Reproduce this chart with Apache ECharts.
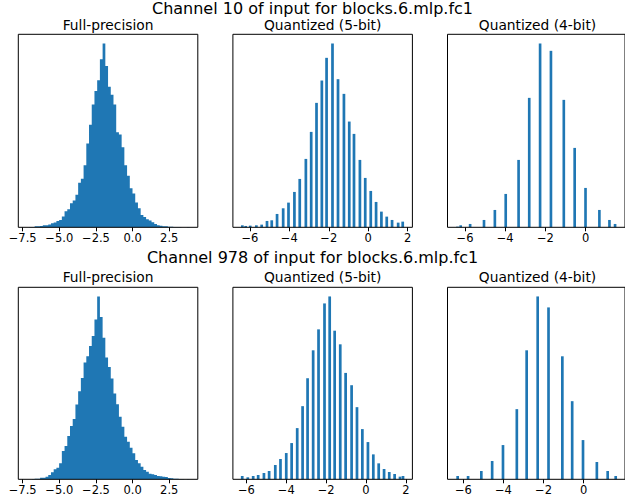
<!DOCTYPE html>
<html>
<head>
<meta charset="utf-8">
<script src="https://cdn.jsdelivr.net/npm/echarts@6/dist/echarts.min.js"></script>
<style>
html,body{margin:0;padding:0;background:#fff;}
#chart{width:625px;height:503px;}
</style>
</head>
<body>
<div id="chart"></div>
<script>
// ---------- data ----------
const rowTitles = ["Channel 10 of input for blocks.6.mlp.fc1", "Channel 978 of input for blocks.6.mlp.fc1"];
const panelTitles = ["Full-precision", "Quantized (5-bit)", "Quantized (4-bit)"];

// full-precision histograms: 60 bins starting at fullMin with width fullBinW
const fullMin = -7.24;
const fullBinW = 0.1855;
const fp10Counts = [0,1,1,3,3,4,6,6,8,12, 14,19,22,32,48,54,72,80,97,133,
  145,185,250,306,367,407,439,502,549,482, 420,396,367,284,277,239,185,154,117,101,
  74,57,37,31,24,20,15,10,6,5, 3,3,2,2,1,1,1,0,0,1];
const fp978Counts = [0,0,1,2,2,5,5,8,13,21, 30,35,48,85,100,130,160,181,225,265,
  305,351,370,401,431,481,550,488,426,366, 338,303,258,226,188,158,128,113,95,78,
  58,48,38,28,23,17,15,13,10,9, 8,7,4,3,2,2,1,1,0,1];

// quantized histograms: left edge of each non-empty bin and its count
const q5TopX = [-6.45,-6.28,-6.05,-5.74,-5.47,-5.20,-4.96,-4.69,-4.38,-4.11,-3.81,-3.54,-3.23,-2.96,-2.69,-2.42,-2.18,-1.88,-1.60,-1.30,-1.03,-0.79,-0.49,-0.22,0.06,0.33,0.60,0.87,1.14,1.45,1.68];
const q5TopC = [6,4,5,6,8,19,21,40,57,74,106,145,205,286,373,440,508,551,444,400,317,280,202,148,109,76,47,32,22,14,17];
const q4TopX = [-6.44,-6.28,-5.81,-5.12,-4.58,-4.04,-3.40,-2.87,-2.33,-1.79,-1.15,-0.61,-0.07,0.62,1.12,1.40];
const q4TopC = [2,6,10,22,52,100,202,388,551,529,382,238,118,52,22,10];
const q5BotX = [-6.28,-6.00,-5.73,-5.48,-5.19,-4.93,-4.62,-4.36,-4.07,-3.80,-3.52,-3.25,-3.00,-2.72,-2.45,-2.15,-1.89,-1.64,-1.36,-1.09,-0.79,-0.52,-0.25,0.03,0.30,0.57,0.84,1.10,1.37,1.64,1.79];
const q5BotC = [10,6,10,13,19,25,43,61,79,109,154,220,304,388,451,529,550,447,406,320,283,217,151,112,75,48,31,22,16,8,10];
const q4BotX = [-6.35,-5.83,-5.17,-4.63,-4.09,-3.40,-2.91,-2.36,-1.82,-1.13,-0.64,-0.10,0.59,1.13,1.53];
const q4BotC = [10,10,25,55,103,211,388,550,517,370,235,118,52,25,10];

// bin widths of quantized panels
const q5TopW = 0.1378, q4TopW = 0.132, q5BotW = 0.1365, q4BotW = 0.133;

// tick labels
const ticksFull = [-7.5, -5.0, -2.5, 0.0, 2.5];
const ticks5 = [-6, -4, -2, 0, 2];
const ticks4 = [-6, -4, -2, 0];

// ---------- layout ----------
const FONT = "DejaVu Sans";
const BLUE = "#1f77b4";
const colLeft = [18.3, 232.9, 447.5];
const colWidth = [179.5, 179.5, 180];
const rowTop = [34.3, 287.3];
const rowHeight = [193, 192];
const xlims = [[-7.8, 4.45], [-6.86, 2.24], [-6.87, 1.96], [-7.8, 4.45], [-6.68, 2.33], [-6.79, 2.06]];

const fullData = (counts) => counts.map((c, k) => [fullMin + k * fullBinW, c]);
const zipData = (xs, cs) => xs.map((x, i) => [x, cs[i]]);

const panels = [
  {data: fullData(fp10Counts), w: fullBinW, ticks: ticksFull, dec: 1, solid: true},
  {data: zipData(q5TopX, q5TopC), w: q5TopW, ticks: ticks5, dec: 0, solid: false},
  {data: zipData(q4TopX, q4TopC), w: q4TopW, ticks: ticks4, dec: 0, solid: false},
  {data: fullData(fp978Counts), w: fullBinW, ticks: ticksFull, dec: 1, solid: true},
  {data: zipData(q5BotX, q5BotC), w: q5BotW, ticks: ticks5, dec: 0, solid: false},
  {data: zipData(q4BotX, q4BotC), w: q4BotW, ticks: ticks4, dec: 0, solid: false}
];

const grids = [], xAxes = [], yAxes = [], series = [], graphics = [];
panels.forEach((p, i) => {
  const r = Math.floor(i / 3), c = i % 3;
  grids.push({left: colLeft[c], top: rowTop[r], width: colWidth[c], height: rowHeight[r],
    show: true, borderColor: "#000", borderWidth: 1, backgroundColor: "transparent", z: 5});
  const dec = p.dec;
  xAxes.push({type: "value", gridIndex: i, min: xlims[i][0], max: xlims[i][1],
    axisLine: {show: false},
    splitLine: {show: false},
    axisTick: {show: true, inside: false, length: 4, lineStyle: {color: "#000", width: 1}, customValues: p.ticks},
    axisLabel: {show: true, customValues: p.ticks, margin: 5, color: "#000", fontFamily: FONT, fontSize: 11.5,
      formatter: (v) => v.toFixed(dec).replace("-", "\u2212")}
  });
  const ymax = Math.max.apply(null, p.data.map(d => d[1])) * 1.05;
  yAxes.push({type: "value", gridIndex: i, min: 0, max: ymax, show: false});
  const w = p.w, solid = p.solid, data = p.data;
  series.push({type: "custom", xAxisIndex: i, yAxisIndex: i, data: data,
    encode: {x: 0, y: 1},
    renderItem: function (params, api) {
      if (solid) {
        // contiguous histogram: one step-shaped polygon through all bins
        if (params.dataIndex !== 0) return null;
        const pts = [api.coord([data[0][0], 0])];
        data.forEach(d => {
          pts.push(api.coord([d[0], d[1]]));
          pts.push(api.coord([d[0] + w, d[1]]));
        });
        pts.push(api.coord([data[data.length - 1][0] + w, 0]));
        return {type: "polygon", shape: {points: pts}, style: {fill: BLUE}};
      }
      const x0 = api.value(0), cnt = api.value(1);
      const a = api.coord([x0, cnt]);
      const b = api.coord([x0 + w, 0]);
      return {type: "rect", shape: {x: a[0], y: a[1], width: b[0] - a[0], height: b[1] - a[1]},
        style: {fill: BLUE}};
    }
  });
  graphics.push({type: "text", x: colLeft[c] + colWidth[c] / 2, y: [25.4, 277.4][r],
    style: {text: panelTitles[c], font: "13.8px '" + FONT + "'", fill: "#000", textAlign: "center", textVerticalAlign: "middle"}});
});
rowTitles.forEach((t, r) => {
  graphics.push({type: "text", x: 312.5, y: [8.5, 257][r],
    style: {text: t, font: "16px '" + FONT + "'", fill: "#000", textAlign: "center", textVerticalAlign: "middle"}});
});

const chart = echarts.init(document.getElementById("chart"), null, {renderer: "svg"});
chart.setOption({
  animation: false,
  backgroundColor: "#fff",
  grid: grids, xAxis: xAxes, yAxis: yAxes, series: series,
  graphic: graphics
});
</script>
</body>
</html>
